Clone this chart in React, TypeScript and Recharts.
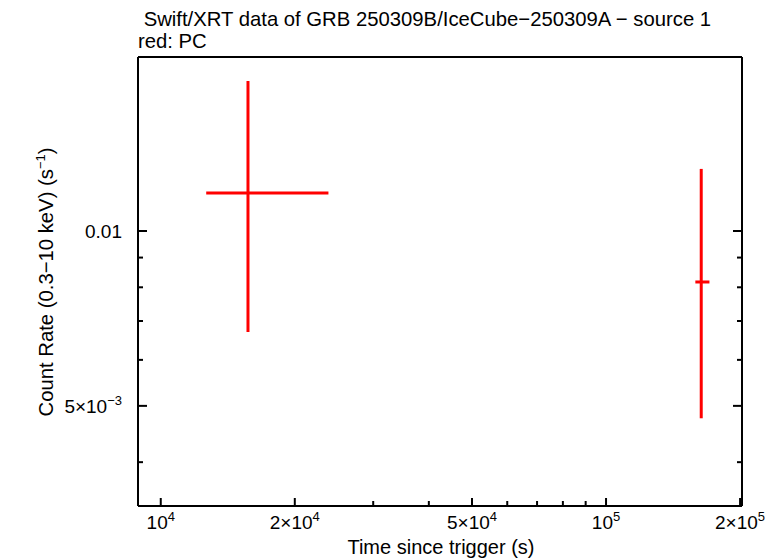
import { ScatterChart, Scatter, XAxis, YAxis, ErrorBar } from "recharts";

// Swift/XRT PC-mode light curve, source 1
const times = [15700, 163600];
const timeLow = [12650, 158700];
const timeHigh = [23800, 170700];
const rates = [0.01162, 0.00817];
const rateLow = [0.0067, 0.00476];
const rateHigh = [0.01812, 0.01279];

const xTicks = [1e4, 2e4, 3e4, 4e4, 5e4, 6e4, 7e4, 8e4, 9e4, 1e5, 2e5];
const xTickLabels: Record<string, [string, string]> = {
  "10000": ["10", "4"],
  "20000": ["2×10", "4"],
  "50000": ["5×10", "4"],
  "100000": ["10", "5"],
  "200000": ["2×10", "5"],
};
const yTicks = [0.004, 0.005, 0.006, 0.007, 0.008, 0.009, 0.01];
const yTickLabels: Record<string, [string, string]> = {
  "0.005": ["5×10", "−3"],
  "0.01": ["0.01", ""],
};

const points = times.map((t, i) => ({
  time: t,
  rate: rates[i],
  xErr: [t - timeLow[i], timeHigh[i] - t],
  yErr: [rates[i] - rateLow[i], rateHigh[i] - rates[i]],
}));

const font = "'Liberation Sans', Arial, sans-serif";
const axisLine = { stroke: "#000", strokeWidth: 2 };

const BottomTick = ({ x, y, payload }: any) => {
  const lab = xTickLabels[String(payload.value)];
  return (
    <g>
      <line x1={x} y1={y} x2={x} y2={y - (lab ? 8 : 5)} stroke="#000" strokeWidth={2} />
      {lab && (
        <text x={x} y={y + 23} textAnchor="middle" fontSize={19} fontFamily={font} fill="#000">
          {lab[0]}
          <tspan dy={-8} fontSize={13}>{lab[1]}</tspan>
        </text>
      )}
    </g>
  );
};

const TopTick = ({ x, y, payload }: any) => {
  const major = !!xTickLabels[String(payload.value)];
  return <line x1={x} y1={y} x2={x} y2={y + (major ? 8 : 5)} stroke="#000" strokeWidth={2} />;
};

const LeftTick = ({ x, y, payload }: any) => {
  const lab = yTickLabels[String(payload.value)];
  return (
    <g>
      <line x1={x} y1={y} x2={x + (lab ? 9 : 5)} y2={y} stroke="#000" strokeWidth={2} />
      {lab && (
        <text x={x - 16} y={y + 7} textAnchor="end" fontSize={19} fontFamily={font} fill="#000">
          {lab[0]}
          {lab[1] && <tspan dy={-8} fontSize={13}>{lab[1]}</tspan>}
        </text>
      )}
    </g>
  );
};

const RightTick = ({ x, y, payload }: any) => {
  const major = !!yTickLabels[String(payload.value)];
  return <line x1={x} y1={y} x2={x - (major ? 9 : 5)} y2={y} stroke="#000" strokeWidth={2} />;
};

export default function App() {
  return (
    <div style={{ position: "absolute", left: 0, top: 0, width: 779, height: 558, background: "#fff", fontFamily: font }}>
      <div style={{ position: "absolute", left: 138, top: 8, fontSize: 20.3, whiteSpace: "pre", lineHeight: "22px" }}>
        {" Swift/XRT data of GRB 250309B/IceCube−250309A − source 1"}
        <br />
        {"red: PC"}
      </div>
      <ScatterChart width={779} height={558} margin={{ top: 56, right: 36, bottom: 0, left: 0 }}>
        <XAxis
          dataKey="time"
          type="number"
          scale="log"
          domain={[8890, 202000]}
          allowDataOverflow
          ticks={xTicks}
          interval={0}
          tickLine={false}
          tickSize={0}
          tickMargin={0}
          tick={<BottomTick />}
          axisLine={axisLine}
          height={52}
          label={{
            content: () => (
              <text x={441} y={554} textAnchor="middle" fontSize={20} fontFamily={font} fill="#000">
                Time since trigger (s)
              </text>
            ),
          }}
        />
        <XAxis
          xAxisId="top"
          orientation="top"
          type="number"
          scale="log"
          domain={[8890, 202000]}
          allowDataOverflow
          ticks={xTicks}
          interval={0}
          tickLine={false}
          tickSize={0}
          tickMargin={0}
          tick={<TopTick />}
          axisLine={axisLine}
          height={1}
        />
        <YAxis
          dataKey="rate"
          type="number"
          scale="log"
          domain={[0.003362, 0.01993]}
          allowDataOverflow
          ticks={yTicks}
          interval={0}
          tickLine={false}
          tickSize={0}
          tickMargin={0}
          tick={<LeftTick />}
          axisLine={axisLine}
          width={138}
          label={{
            content: () => (
              <text transform="translate(53,282) rotate(-90)" textAnchor="middle" fontSize={20.3} fontFamily={font} fill="#000">
                Count Rate (0.3−10 keV) (s
                <tspan dy={-8} fontSize={13}>−1</tspan>
                <tspan dy={8}>)</tspan>
              </text>
            ),
          }}
        />
        <YAxis
          yAxisId="right"
          orientation="right"
          type="number"
          scale="log"
          domain={[0.003362, 0.01993]}
          allowDataOverflow
          ticks={yTicks}
          interval={0}
          tickLine={false}
          tickSize={0}
          tickMargin={0}
          tick={<RightTick />}
          axisLine={axisLine}
          width={1}
        />
        <Scatter data={points} isAnimationActive={false} shape={() => <g />}>
          <ErrorBar dataKey="xErr" direction="x" width={0} stroke="#ff0000" strokeWidth={3} isAnimationActive={false} />
          <ErrorBar dataKey="yErr" direction="y" width={0} stroke="#ff0000" strokeWidth={3} isAnimationActive={false} />
        </Scatter>
      </ScatterChart>
    </div>
  );
}
